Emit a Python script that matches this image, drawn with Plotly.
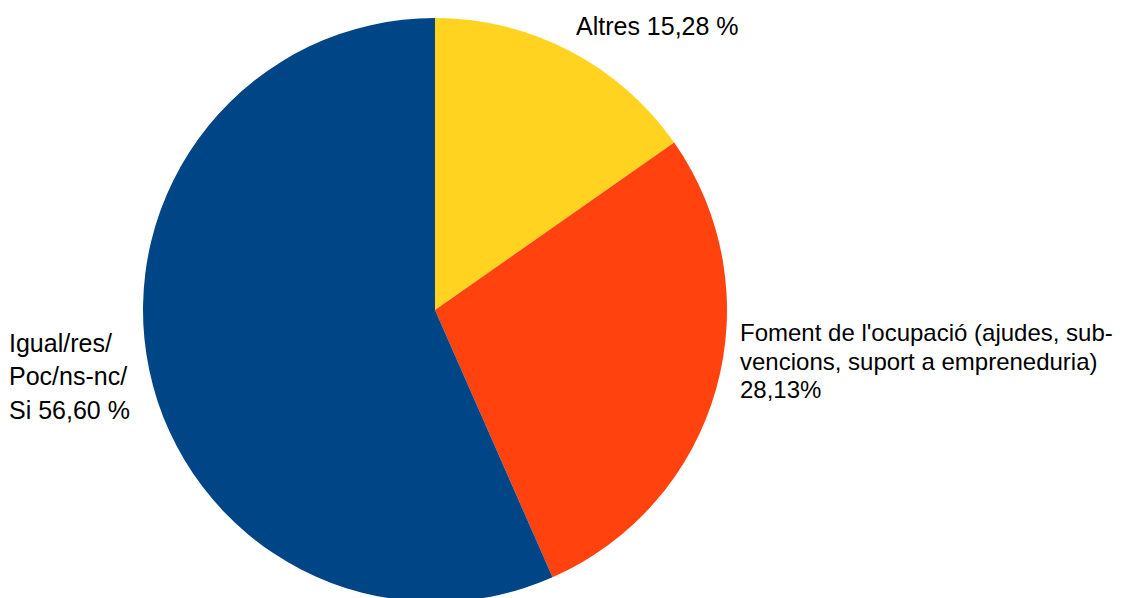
import plotly.graph_objects as go

labels = ["Altres", "Foment de l'ocupació (ajudes, sub-vencions, suport a empreneduria)", "Igual/res/Poc/ns-nc/Si"]
values = [15.28, 28.13, 56.60]
colors = ["#FFD320", "#FF420E", "#004586"]

label_lines = [
    ["Altres 15,28 %"],
    ["Foment de l'ocupació (ajudes, sub-", "vencions, suport a empreneduria)", "28,13%"],
    ["Igual/res/", "Poc/ns-nc/", "Si 56,60 %"],
]

W, H = 1131, 598
OFF = 8  # page body margin

# pie center and radius in screenshot pixels
cx, cy, r = 435 - OFF, 310 - OFF, 292

fig = go.Figure(go.Pie(
    labels=labels,
    values=values,
    marker=dict(colors=colors, line=dict(width=0)),
    sort=False,
    direction="clockwise",
    rotation=0,
    textinfo="none",
    hoverinfo="label+percent",
    showlegend=False,
    domain=dict(x=[(cx - r) / W, (cx + r) / W], y=[1 - (cy + r) / H, 1 - (cy - r) / H]),
))

# label anchor positions (screenshot pixels): left x, line centers, font size
anchors = [
    (577, [26], 25),
    (741, [332, 361, 389], 24),
    (10, [343, 376, 410], 25),
]

ann = []
for lines, (px, pys, fs) in zip(label_lines, anchors):
    for t, py in zip(lines, pys):
        ann.append(dict(
            text=t, x=(px - 11) / W, y=1 - (py - OFF) / H, xref="paper", yref="paper",
            xanchor="left", yanchor="middle", showarrow=False,
            font=dict(family="Liberation Sans, Arial, sans-serif", size=fs, color="#000000"),
        ))

fig.update_layout(
    width=W, height=H,
    margin=dict(l=0, r=0, t=0, b=0),
    paper_bgcolor="white",
    plot_bgcolor="white",
    annotations=ann,
)

fig.write_html("out.html")
